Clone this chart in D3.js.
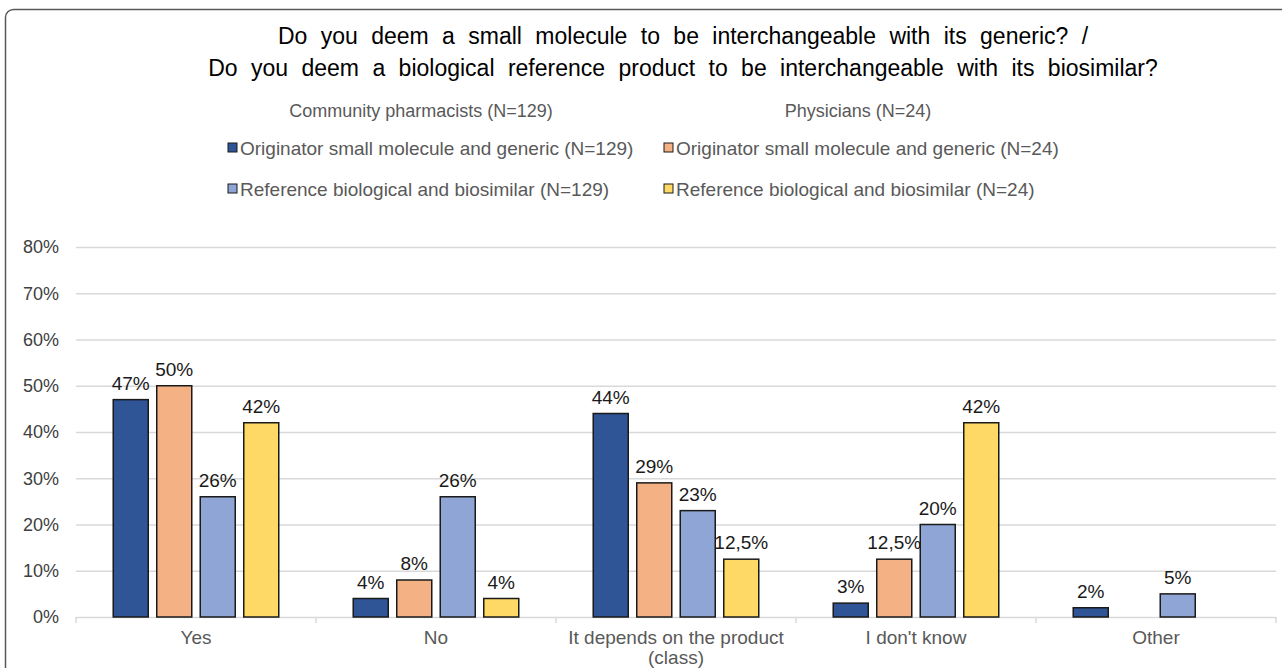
<!DOCTYPE html>
<html>
<head>
<meta charset="utf-8">
<script src="https://cdn.jsdelivr.net/npm/d3@7"></script>
<style>
  html, body { margin: 0; padding: 0; background: #fff; }
  svg { display: block; font-family: "Liberation Sans", Arial, sans-serif; }
</style>
</head>
<body>
<svg id="chart" width="1282" height="668"></svg>
<script>
// Answer categories on the x axis
const categories = ["Yes", "No", "It depends on the product (class)", "I don't know", "Other"];

// Series (percent of respondents); null = no answer given
const seriesNames = [
  "Originator small molecule and generic (N=129)",
  "Originator small molecule and generic (N=24)",
  "Reference biological and biosimilar (N=129)",
  "Reference biological and biosimilar (N=24)"
];
const pharmOriginator = [47, 4, 44, 3, 2];
const physOriginator  = [50, 8, 29, 12.5, null];
const pharmReference  = [26, 26, 23, 20, 5];
const physReference   = [42, 4, 12.5, 42, null];

const seriesColors = ["#2F5597", "#F4B183", "#8FA5D5", "#FFD966"];
const yTicks = [0, 10, 20, 30, 40, 50, 60, 70, 80];

const series = [pharmOriginator, physOriginator, pharmReference, physReference];

const svg = d3.select("#chart");

// outer frame
svg.append("rect")
  .attr("x", 5.5).attr("y", 9.5)
  .attr("width", 1300).attr("height", 700)
  .attr("rx", 8)
  .attr("fill", "none")
  .attr("stroke", "#595959")
  .attr("stroke-width", 1.5);

// title
const title = svg.append("text")
  .attr("text-anchor", "middle")
  .attr("font-size", 23)
  .attr("fill", "#000")
  .attr("word-spacing", 7);
title.append("tspan").attr("x", 683).attr("y", 44)
  .text("Do you deem a small molecule to be interchangeable with its generic? /");
title.append("tspan").attr("x", 683).attr("y", 76)
  .text("Do you deem a biological reference product to be interchangeable with its biosimilar?");

// legend
const legendCols = [
  { header: "Community pharmacists (N=129)", cx: 421, x: 228, items: [0, 2] },
  { header: "Physicians (N=24)", cx: 858, x: 664, items: [1, 3] }
];
legendCols.forEach(col => {
  svg.append("text")
    .attr("x", col.cx).attr("y", 117)
    .attr("text-anchor", "middle")
    .attr("font-size", 18)
    .attr("fill", "#595959")
    .text(col.header);
  col.items.forEach((si, r) => {
    const yy = 148 + r * 41;
    svg.append("rect")
      .attr("x", col.x).attr("y", yy - 5)
      .attr("width", 9).attr("height", 9)
      .attr("fill", seriesColors[si])
      .attr("stroke", "#1a1a1a").attr("stroke-width", 1);
    svg.append("text")
      .attr("x", col.x + 12).attr("y", yy + 7)
      .attr("font-size", 19)
      .attr("fill", "#595959")
      .text(seriesNames[si]);
  });
});

// scales
const x = d3.scaleBand().domain(categories).range([76, 1276]).padding(0);
const xs = d3.scaleBand().domain(d3.range(series.length))
  .range([0, x.bandwidth()]).paddingInner(0.195).paddingOuter(0.856);
const y = d3.scaleLinear().domain([0, 80]).range([617, 247]);

// gridlines
svg.append("g").selectAll("line")
  .data(yTicks.filter(t => t > 0))
  .join("line")
  .attr("x1", 76).attr("x2", 1276)
  .attr("y1", d => y(d) + 0.5).attr("y2", d => y(d) + 0.5)
  .attr("stroke", "#d9d9d9").attr("stroke-width", 1.5);

// y axis labels
const yAxis = svg.append("g")
  .attr("transform", "translate(59,0)")
  .call(d3.axisLeft(y).tickValues(yTicks).tickFormat(d => d + "%").tickSize(0).tickPadding(0));
yAxis.select(".domain").remove();
yAxis.selectAll("text")
  .attr("font-size", 18)
  .attr("font-family", "Liberation Sans, Arial, sans-serif")
  .attr("fill", "#404040");

// x axis baseline with category boundary ticks
svg.append("line")
  .attr("x1", 76).attr("x2", 1276)
  .attr("y1", y(0) + 0.5).attr("y2", y(0) + 0.5)
  .attr("stroke", "#d9d9d9").attr("stroke-width", 1.5);
const boundaries = categories.map(c => x(c)).concat([x.range()[1]]);
svg.append("g").selectAll("line")
  .data(boundaries)
  .join("line")
  .attr("x1", d => d).attr("x2", d => d)
  .attr("y1", y(0)).attr("y2", y(0) + 6)
  .attr("stroke", "#d9d9d9").attr("stroke-width", 1.5);

// category labels (wrapped where too wide)
categories.forEach(c => {
  const cx = x(c) + x.bandwidth() / 2;
  const t = svg.append("text")
    .attr("text-anchor", "middle")
    .attr("font-size", 19)
    .attr("fill", "#595959");
  const lines = c.length > 25 ? ["It depends on the product", "(class)"] : [c];
  lines.forEach((ln, i) => {
    t.append("tspan").attr("x", cx).attr("y", 644 + i * 20).text(ln);
  });
});

// bars and value labels
const fmt = v => (Number.isInteger(v) ? String(v) : String(v).replace(".", ",")) + "%";
series.forEach((vals, si) => {
  const g = svg.append("g");
  const data = vals.map((v, ci) => ({ v, c: categories[ci] })).filter(d => d.v !== null);
  g.selectAll("rect")
    .data(data)
    .join("rect")
    .attr("x", d => x(d.c) + xs(si))
    .attr("y", d => y(d.v))
    .attr("width", xs.bandwidth())
    .attr("height", d => y(0) - y(d.v))
    .attr("fill", seriesColors[si])
    .attr("stroke", "#1a1a1a")
    .attr("stroke-width", 1.5);
  g.selectAll("text")
    .data(data)
    .join("text")
    .attr("x", d => x(d.c) + xs(si) + xs.bandwidth() / 2)
    .attr("y", d => y(d.v) - 10)
    .attr("text-anchor", "middle")
    .attr("font-size", 19)
    .attr("fill", "#1a1a1a")
    .text(d => fmt(d.v));
});
</script>
</body>
</html>
